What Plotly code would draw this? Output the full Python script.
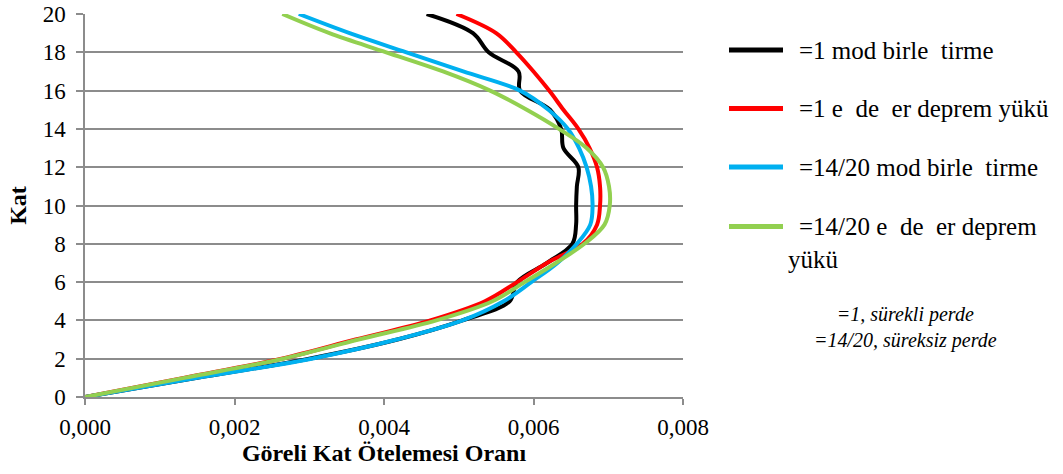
import plotly.graph_objects as go

# ---- data ----
kat = list(range(21))

alpha1_mod = [0, 0.00150, 0.00300, 0.00418, 0.00505, 0.00568, 0.00578, 0.00618, 0.00652, 0.00657,
              0.00657, 0.00658, 0.00660, 0.00640, 0.00637, 0.00622, 0.00582, 0.00580, 0.00540, 0.00519, 0.00457]
alpha1_esd = [0, 0.00132, 0.00263, 0.00362, 0.00462, 0.00535, 0.00578, 0.00618, 0.00666, 0.00685,
              0.00689, 0.00689, 0.00685, 0.00675, 0.00660, 0.00640, 0.00621, 0.00600, 0.00577, 0.00550, 0.00497]
alpha14_mod = [0, 0.00150, 0.00303, 0.00417, 0.00505, 0.00560, 0.00597, 0.00632, 0.00658, 0.00676,
               0.00679, 0.00677, 0.00671, 0.00661, 0.00646, 0.00620, 0.00582, 0.00506, 0.00430, 0.00354, 0.00286]
alpha14_esd = [0, 0.00133, 0.00265, 0.00366, 0.00470, 0.00545, 0.00588, 0.00630, 0.00668, 0.00695,
               0.00702, 0.00701, 0.00693, 0.00671, 0.00634, 0.00591, 0.00542, 0.00479, 0.00403, 0.00327, 0.00264]

NB = "\u00a0"
series_names = [
    "=1 mod birle" + NB * 2 + "tirme",
    "=1 e" + NB * 2 + "de" + NB * 2 + "er deprem yükü",
    "=14/20 mod birle" + NB * 2 + "tirme",
    "=14/20 e" + NB * 2 + "de" + NB * 2 + "er deprem<br>yükü",
]
series_values = [alpha1_mod, alpha1_esd, alpha14_mod, alpha14_esd]
series_colors = ["#000000", "#FF0000", "#00B0F0", "#92D050"]

note_lines = ["=1, sürekli perde", "=14/20, süreksiz perde"]

x_title = "Göreli Kat Ötelemesi Oranı"
y_title = "Kat"

FONT = "Liberation Serif"
GRID = "#8c8c8c"

fig = go.Figure()
for name, vals, col in zip(series_names, series_values, series_colors):
    fig.add_trace(go.Scatter(
        x=vals, y=kat, mode="lines", name=name.replace("<br>", " "),
        line=dict(color=col, width=4, shape="spline", smoothing=1.0),
        showlegend=False, hoverinfo="skip",
    ))

# manual legend (to the right of the plot area)
W, H = 1063, 474
L, R, T, B = 85, 380, 14, 77
pw, ph = W - L - R, H - T - B

def px_to_paper_x(px):
    return (px - L) / pw

def py_to_paper_y(py):
    return (H - B - py) / ph

legend_y = [50, 108.5, 167, 226.5]
for i, (name, col) in enumerate(zip(series_names, series_colors)):
    yy = py_to_paper_y(legend_y[i])
    fig.add_shape(type="line", xref="paper", yref="paper",
                  x0=px_to_paper_x(729), x1=px_to_paper_x(783), y0=yy, y1=yy,
                  line=dict(color=col, width=5))
    parts = name.split("<br>")
    fig.add_annotation(xref="paper", yref="paper", x=px_to_paper_x(797), y=yy,
                       xanchor="left", yanchor="middle", text=parts[0], showarrow=False,
                       font=dict(family=FONT, size=25, color="black"))
    if len(parts) > 1:
        fig.add_annotation(xref="paper", yref="paper", x=px_to_paper_x(786),
                           y=py_to_paper_y(legend_y[i] + 33),
                           xanchor="left", yanchor="middle", text=parts[1], showarrow=False,
                           font=dict(family=FONT, size=25, color="black"))

# note box (two centred italic lines)
fig.add_annotation(xref="paper", yref="paper", x=px_to_paper_x(905), y=py_to_paper_y(327),
                   xanchor="center", yanchor="middle", align="center",
                   text="<br>".join("<i>" + t + "</i>" for t in note_lines), showarrow=False,
                   font=dict(family=FONT, size=20, color="black"))

fig.update_layout(
    width=W, height=H,
    margin=dict(l=L, r=R, t=T, b=B, autoexpand=False),
    paper_bgcolor="white", plot_bgcolor="white",
    separators=",.",
    font=dict(family=FONT, size=23, color="black"),
    showlegend=False,
    xaxis=dict(
        range=[0, 0.008], dtick=0.002, tick0=0, tickformat=".3f",
        showgrid=False, zeroline=False, automargin=False,
        showline=True, linecolor=GRID, linewidth=1.5,
        ticks="outside", ticklen=6, tickcolor=GRID, tickwidth=1.5,
        ticklabelstandoff=3,
        tickfont=dict(family=FONT, size=23, color="black"),
        title=dict(text=x_title, font=dict(family=FONT, size=24, color="black", weight="bold"), standoff=4),
    ),
    yaxis=dict(
        range=[0, 20], dtick=2, tick0=0,
        showgrid=True, gridcolor=GRID, gridwidth=1.5,
        zeroline=False, automargin=False,
        showline=True, linecolor=GRID, linewidth=1.5,
        ticks="outside", ticklen=7, tickcolor=GRID, tickwidth=1.5,
        ticklabelstandoff=6,
        tickfont=dict(family=FONT, size=23, color="black"),
        title=dict(text=y_title, font=dict(family=FONT, size=24, color="black", weight="bold"), standoff=9),
    ),
)

fig.write_html("out.html")
